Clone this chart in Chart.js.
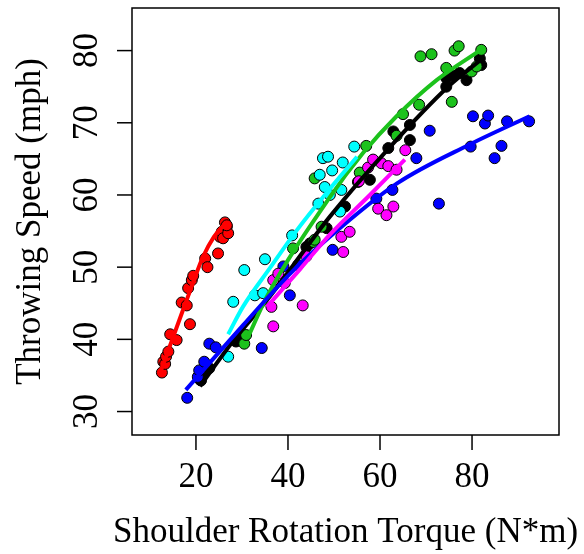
<!DOCTYPE html>
<html>
<head>
<meta charset="utf-8">
<script src="https://cdn.jsdelivr.net/npm/chart.js@4.4.1/dist/chart.umd.min.js"></script>
<style>
  html, body { margin: 0; padding: 0; background: #fff; }
  canvas { display: block; }
</style>
</head>
<body>
<canvas id="torqueChart" width="584" height="554"></canvas>
<script>
// axis ticks
const xTicks = [20, 40, 60, 80];
const yTicks = [30, 40, 50, 60, 70, 80];

// pitchers: torque (N*m) vs throwing speed (mph)
const blackX = [20.9, 21.1, 22.9, 21.6, 28.7, 29.5, 44.0, 44.8, 48.4, 52.4, 55.2, 57.8, 61.8, 62.9, 66.5, 66.5, 74.4, 74.4, 76.0, 77.3, 78.8, 81.7, 82.0];
const blackY = [34.4, 34.3, 36.0, 35.3, 39.7, 40.3, 52.8, 53.3, 55.4, 58.4, 61.8, 62.1, 66.5, 68.8, 69.7, 67.6, 75.0, 76.2, 76.5, 76.9, 75.9, 78.9, 78.0];

const redX = [12.6, 12.9, 13.3, 13.5, 14.0, 14.4, 15.8, 16.9, 18.0, 18.7, 18.3, 19.1, 19.4, 22.0, 22.5, 24.8, 25.2, 25.6, 25.9, 26.3, 26.7, 27.0, 26.7];
const redY = [35.4, 36.9, 36.6, 37.6, 38.3, 40.7, 39.9, 45.1, 44.7, 42.1, 47.1, 48.2, 48.8, 51.2, 50.0, 51.9, 54.2, 54.9, 54.0, 56.2, 55.6, 54.7, 55.8];

const greenX = [30.5, 30.9, 41.1, 45.5, 45.8, 47.3, 45.8, 55.6, 57.0, 63.6, 65.0, 68.5, 68.8, 71.2, 74.4, 75.6, 76.2, 77.1, 79.9, 81.0, 82.0];
const greenY = [39.4, 40.6, 52.6, 53.5, 53.8, 55.6, 62.3, 63.1, 66.8, 68.2, 71.2, 72.5, 79.2, 79.5, 77.6, 72.9, 80.0, 80.6, 77.1, 77.8, 80.1];

const blueX = [18.1, 20.4, 20.7, 21.8, 22.9, 24.3, 34.3, 39.0, 40.4, 42.2, 49.7, 59.2, 62.7, 67.9, 70.8, 72.8, 79.7, 80.2, 82.8, 83.5, 84.9, 86.4, 87.6, 92.4];
const blueY = [31.9, 34.8, 35.7, 36.9, 39.4, 38.9, 38.8, 50.1, 46.1, 50.3, 52.4, 59.5, 60.7, 65.1, 68.9, 58.8, 66.7, 70.9, 69.9, 71.0, 65.1, 66.8, 70.2, 70.2];

const cyanX = [27.0, 28.1, 30.5, 32.8, 34.6, 35.0, 40.9, 46.6, 46.9, 47.6, 48.0, 48.7, 49.1, 49.6, 51.3, 51.6, 51.9, 54.4];
const cyanY = [37.6, 45.2, 49.6, 46.1, 46.4, 51.1, 54.4, 58.8, 62.8, 65.1, 61.1, 65.3, 60.0, 63.4, 57.7, 60.7, 64.5, 66.7];

const magentaX = [36.4, 36.8, 36.8, 37.9, 39.3, 43.2, 44.0, 51.6, 52.0, 53.4, 55.4, 57.4, 58.5, 59.6, 60.3, 61.4, 61.8, 62.9, 63.6, 65.5];
const magentaY = [44.5, 41.8, 48.2, 49.1, 47.8, 44.7, 51.5, 54.2, 52.1, 54.9, 61.9, 63.8, 64.9, 58.1, 64.4, 57.2, 64.0, 58.4, 63.5, 66.2];

// fitted trend curves
const blackFitX = [20.9, 28.0, 35.4, 49.1, 62.1, 74.8, 82.5];
const blackFitY = [33.5, 39.7, 45.4, 57.0, 66.6, 75.0, 79.0];
const redFitX = [12.4, 14.8, 17.2, 19.4, 21.5, 23.9, 26.3];
const redFitY = [35.7, 39.9, 44.1, 47.9, 51.4, 54.2, 56.0];
const greenFitX = [31.3, 35.4, 49.1, 56.3, 63.6, 72.3, 81.9];
const greenFitY = [40.3, 45.9, 59.7, 65.8, 70.9, 75.9, 80.1];
const blueFitX = [17.8, 30.3, 40.0, 49.1, 63.7, 79.5, 92.5];
const blueFitY = [33.0, 42.0, 48.8, 54.2, 61.6, 67.0, 70.9];
const cyanFitX = [27.0, 30.2, 36.1, 41.9, 48.0, 55.0];
const cyanFitY = [40.7, 44.5, 49.9, 55.1, 60.0, 65.3];
const magentaFitX = [35.4, 42.6, 49.1, 57.8, 65.4];
const magentaFitY = [44.5, 49.7, 54.5, 60.0, 64.9];

const groups = [
  { x: blackX, y: blackY, fx: blackFitX, fy: blackFitY, color: '#000000' },
  { x: redX, y: redY, fx: redFitX, fy: redFitY, color: '#FF0000' },
  { x: greenX, y: greenY, fx: greenFitX, fy: greenFitY, color: '#1CC21C' },
  { x: blueX, y: blueY, fx: blueFitX, fy: blueFitY, color: '#0000FF' },
  { x: cyanX, y: cyanY, fx: cyanFitX, fy: cyanFitY, color: '#00FFFF' },
  { x: magentaX, y: magentaY, fx: magentaFitX, fy: magentaFitY, color: '#FF00FF' }
];

function toPoints(xs, ys) {
  return xs.map((v, i) => ({ x: v, y: ys[i] }));
}

const datasets = [];
groups.forEach((g, i) => {
  datasets.push({
    data: toPoints(g.x, g.y),
    showLine: false,
    pointRadius: 5.5,
    pointBackgroundColor: g.color,
    pointBorderColor: '#000',
    pointBorderWidth: 1,
    order: 20 - i
  });
});
groups.forEach((g, i) => {
  datasets.push({
    data: toPoints(g.fx, g.fy),
    showLine: true,
    borderColor: g.color,
    borderWidth: 4,
    pointRadius: 0,
    cubicInterpolationMode: 'monotone',
    order: 10 - i
  });
});

const FONT = '35px "Liberation Serif", "Times New Roman", serif';

// box, ticks and labels in base-graphics style
const frame = {
  id: 'frame',
  afterDraw(chart) {
    const { ctx, chartArea: a, scales } = chart;
    ctx.save();
    ctx.strokeStyle = '#000';
    ctx.lineWidth = 1.5;
    ctx.strokeRect(a.left, a.top, a.right - a.left, a.bottom - a.top);

    ctx.fillStyle = '#000';
    ctx.font = FONT;
    ctx.textAlign = 'center';
    ctx.textBaseline = 'alphabetic';

    xTicks.forEach(v => {
      const px = scales.x.getPixelForValue(v);
      ctx.beginPath();
      ctx.moveTo(px, a.bottom);
      ctx.lineTo(px, a.bottom + 15);
      ctx.stroke();
      ctx.fillText(String(v), px, 487);
    });

    yTicks.forEach(v => {
      const py = scales.y.getPixelForValue(v);
      ctx.beginPath();
      ctx.moveTo(a.left - 15, py);
      ctx.lineTo(a.left, py);
      ctx.stroke();
      ctx.save();
      ctx.translate(97, py);
      ctx.rotate(-Math.PI / 2);
      ctx.fillText(String(v), 0, 0);
      ctx.restore();
    });

    ctx.fillText('Shoulder Rotation Torque (N*m)', (a.left + a.right) / 2, 542);
    ctx.save();
    ctx.translate(40, (a.top + a.bottom) / 2);
    ctx.rotate(-Math.PI / 2);
    ctx.fillText('Throwing Speed (mph)', 0, 0);
    ctx.restore();
    ctx.restore();
  }
};

new Chart(document.getElementById('torqueChart'), {
  type: 'scatter',
  data: { datasets: datasets },
  options: {
    responsive: false,
    animation: false,
    devicePixelRatio: 1,
    layout: { padding: { left: 132, right: 25, top: 8, bottom: 119 } },
    plugins: { legend: { display: false }, tooltip: { enabled: false } },
    scales: {
      x: { type: 'linear', min: 6.1, max: 98.9, display: false },
      y: { type: 'linear', min: 26.75, max: 85.9, display: false }
    }
  },
  plugins: [frame]
});
</script>
</body>
</html>
